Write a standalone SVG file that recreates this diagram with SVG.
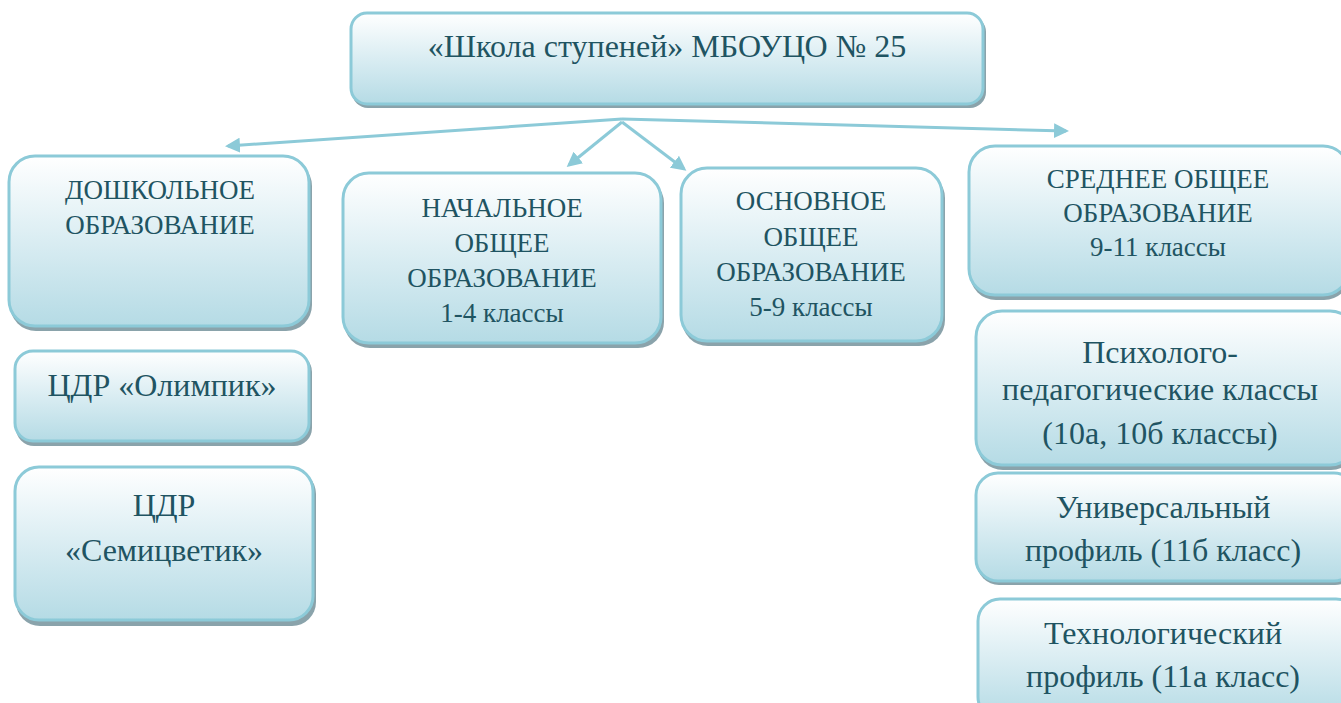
<svg xmlns="http://www.w3.org/2000/svg" width="1341" height="703" viewBox="0 0 1341 703">
<defs>
<linearGradient id="g" x1="0" y1="0" x2="0" y2="1">
<stop offset="0" stop-color="#ffffff"/>
<stop offset="0.55" stop-color="#d6ebf1"/>
<stop offset="1" stop-color="#b5dbe5"/>
</linearGradient>
<marker id="ah" viewBox="0 0 10 10" refX="8" refY="5" markerWidth="5" markerHeight="5" orient="auto" markerUnits="strokeWidth">
<path d="M0,0 L10,5 L0,10 z" fill="#8ccad8"/>
</marker>
</defs>
<style>
.sh{fill:#8aa3ab}
.bx{fill:url(#g);stroke:#8ccad8;stroke-width:3}
.t{font-family:'Liberation Serif','Times New Roman',serif;fill:#1f5462;text-anchor:middle}
.s{font-size:27px}
.b{font-size:32px}
.c{stroke:#8ccad8;stroke-width:3;fill:none}
</style>
<rect width="1341" height="703" fill="#ffffff"/>
<g id="connectors">
<line class="c" x1="622" y1="119" x2="228" y2="146" marker-end="url(#ah)"/>
<line class="c" x1="622" y1="119" x2="1066" y2="131" marker-end="url(#ah)"/>
<line class="c" x1="622" y1="122" x2="569" y2="165" marker-end="url(#ah)"/>
<line class="c" x1="622" y1="122" x2="684" y2="169" marker-end="url(#ah)"/>
</g>
<g id="root">
<rect class="sh" x="352" y="16" width="634" height="92" rx="16"/>
<rect class="bx" x="351" y="13" width="632" height="91" rx="16"/>
<text class="t b" x="667" y="57">«Школа ступеней» МБОУЦО № 25</text>
</g>
<g id="preschool">
<rect class="sh" x="10" y="160" width="302" height="171" rx="26"/>
<rect class="bx" x="9" y="156" width="300" height="170" rx="26"/>
<text class="t s" x="160" y="199">ДОШКОЛЬНОЕ</text>
<text class="t s" x="160" y="234">ОБРАЗОВАНИЕ</text>
</g>
<g id="olimpik">
<rect class="sh" x="16" y="354" width="296" height="92" rx="18"/>
<rect class="bx" x="15" y="351" width="294" height="90" rx="18"/>
<text class="t b" x="162" y="396">ЦДР «Олимпик»</text>
</g>
<g id="semitsvetik">
<rect class="sh" x="16" y="470" width="300" height="156" rx="24"/>
<rect class="bx" x="15" y="467" width="298" height="153" rx="24"/>
<text class="t b" x="164" y="516">ЦДР</text>
<text class="t b" x="164" y="561">«Семицветик»</text>
</g>
<g id="primary">
<rect class="sh" x="344" y="177" width="320" height="171" rx="26"/>
<rect class="bx" x="343" y="173" width="318" height="170" rx="26"/>
<text class="t s" x="502" y="217">НАЧАЛЬНОЕ</text>
<text class="t s" x="502" y="252">ОБЩЕЕ</text>
<text class="t s" x="502" y="287">ОБРАЗОВАНИЕ</text>
<text class="t s" x="502" y="322">1-4 классы</text>
</g>
<g id="basic">
<rect class="sh" x="682" y="172" width="263" height="174" rx="26"/>
<rect class="bx" x="681" y="168" width="261" height="173" rx="26"/>
<text class="t s" x="811" y="210">ОСНОВНОЕ</text>
<text class="t s" x="811" y="246">ОБЩЕЕ</text>
<text class="t s" x="811" y="281">ОБРАЗОВАНИЕ</text>
<text class="t s" x="811" y="316">5-9 классы</text>
</g>
<g id="secondary">
<rect class="sh" x="970" y="150" width="380" height="150" rx="26"/>
<rect class="bx" x="969" y="146" width="380" height="149" rx="26"/>
<text class="t s" x="1158" y="188">СРЕДНЕЕ ОБЩЕЕ</text>
<text class="t s" x="1158" y="222">ОБРАЗОВАНИЕ</text>
<text class="t s" x="1158" y="256">9-11 классы</text>
</g>
<g id="psych">
<rect class="sh" x="977" y="315" width="380" height="155" rx="26"/>
<rect class="bx" x="976" y="311" width="380" height="154" rx="26"/>
<text class="t b" x="1160" y="363">Психолого-</text>
<text class="t b" x="1160" y="400">педагогические классы</text>
<text class="t b" x="1160" y="444">(10а, 10б классы)</text>
</g>
<g id="universal">
<rect class="sh" x="977" y="477" width="380" height="108" rx="22"/>
<rect class="bx" x="976" y="473" width="380" height="108" rx="22"/>
<text class="t b" x="1163" y="518">Универсальный</text>
<text class="t b" x="1163" y="561">профиль (11б класс)</text>
</g>
<g id="tech">
<rect class="sh" x="979" y="603" width="380" height="120" rx="22"/>
<rect class="bx" x="978" y="599" width="380" height="120" rx="22"/>
<text class="t b" x="1163" y="644">Технологический</text>
<text class="t b" x="1163" y="687">профиль (11а класс)</text>
</g>
</svg>
